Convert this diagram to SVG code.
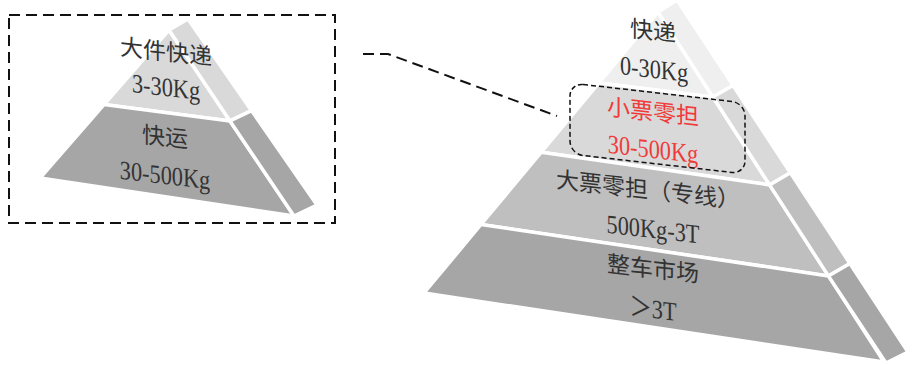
<svg xmlns="http://www.w3.org/2000/svg" width="920" height="365" viewBox="0 0 920 365">
<defs>
<style>
.t{font-family:"Liberation Serif","Noto Sans CJK SC",serif;font-size:23px;fill:#333;text-anchor:middle}
.r{fill:#f03a3a}
polygon{stroke:#fff;stroke-width:3.5;stroke-linejoin:round}
.dash{stroke:#111;stroke-width:2;fill:none;stroke-dasharray:11 6}
.c1{fill:#efefef}.c2{fill:#d9d9d9}.c3{fill:#bfbfbf}.c4{fill:#a6a6a6}
</style>
</defs>
<rect width="920" height="365" fill="#fff"/>

<g id="small-pyramid">
  <g id="small-tier1">
    <polygon class="c2" points="169,30 104,104.6 230,120.9"/>
    <polygon class="c2" points="169,30 188,19 251.6,110.7 230,120.9"/>
    <text class="t" transform="translate(166,60) skewY(6.5)" font-size="22">大件快递</text>
    <text class="t" transform="translate(166,96) skewY(6.5) scale(0.97,1.15)" font-size="24">3-30Kg</text>
  </g>
  <g id="small-tier2">
    <polygon class="c4" points="104,104.6 40,178 294,216 230,120.9"/>
    <polygon class="c4" points="230,120.9 251.6,110.7 317,205 294,216"/>
    <text class="t" transform="translate(165,145) skewY(6.5)" font-size="22">快运</text>
    <text class="t" transform="translate(165,184) skewY(6.5) scale(0.97,1.15)" font-size="24">30-500Kg</text>
  </g>
  <rect id="small-frame" class="dash" x="9" y="15" width="326" height="208"/>
</g>

<g id="large-pyramid">
  <g id="tier1">
    <polygon class="c1" points="658,12 599,82.9 712.9,97"/>
    <polygon class="c1" points="658,12 677,0 733,85.4 712.9,97"/>
    <text class="t" transform="translate(653,39) skewY(6.5)">快递</text>
    <text class="t" transform="translate(654,78) skewY(6.5) scale(0.97,1.15)" font-size="24">0-30Kg</text>
  </g>
  <g id="tier2">
    <polygon class="c2" points="599,82.9 541.3,152.2 769.6,184.9 712.9,97"/>
    <polygon class="c2" points="712.9,97 733,85.4 790.4,172.8 769.6,184.9"/>
    <text class="t r" transform="translate(653,120) skewY(6.5)">小票零担</text>
    <text class="t r" transform="translate(653,158) skewY(6.5) scale(0.97,1.15)" font-size="24">30-500Kg</text>
  </g>
  <g id="tier3">
    <polygon class="c3" points="541.3,152.2 481,224.5 828.4,275.9 769.6,184.9"/>
    <polygon class="c3" points="769.6,184.9 790.4,172.8 849.9,263.5 828.4,275.9"/>
    <text class="t" transform="translate(648,198) skewY(6.5)" font-size="24">大票零担（专线）</text>
    <text class="t" transform="translate(653,238) skewY(6.5) scale(0.97,1.15)" font-size="24">500Kg-3T</text>
  </g>
  <g id="tier4">
    <polygon class="c4" points="481,224.5 424,293 884,362 828.4,275.9"/>
    <polygon class="c4" points="828.4,275.9 849.9,263.5 908,352 886,363"/>
    <text class="t" transform="translate(653,277) skewY(6.5)">整车市场</text>
    <text class="t" transform="translate(653,318) skewY(6.5) scale(0.97,1.15)" font-size="24">＞3T</text>
  </g>
  <rect id="highlight" transform="translate(570,83) skewY(6.5)" x="0" y="0" width="175" height="71" rx="13" fill="none" stroke="#111" stroke-width="1.5" stroke-dasharray="5 3"/>
</g>

<g id="connectors">
  <polyline class="dash" points="363,54 388,54 557,116"/>
</g>
</svg>
